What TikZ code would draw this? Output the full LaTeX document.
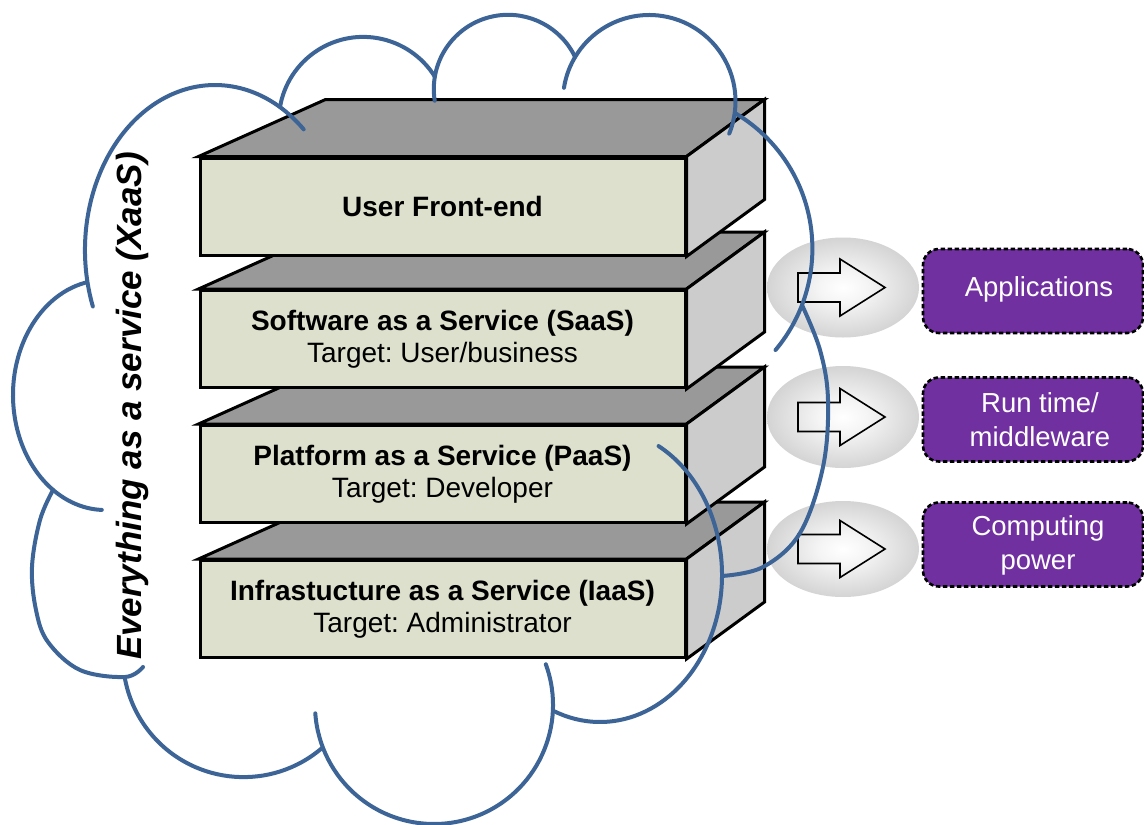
\documentclass[tikz,border=0pt]{standalone}
\usepackage{fontspec}
\setmainfont{Liberation Sans}
\usetikzlibrary{shapes.geometric}
\definecolor{facefront}{RGB}{221,224,204}
\definecolor{facetop}{RGB}{153,153,153}
\definecolor{faceside}{RGB}{204,204,204}
\definecolor{cloudblue}{RGB}{60,100,150}
\definecolor{purp}{RGB}{112,48,160}
\pgfdeclareradialshading{ellgrad}{\pgfpointorigin}{color(0bp)=(white); color(8bp)=(white!96!black); color(50bp)=(black!36)}
\frenchspacing
\begin{document}
\begin{tikzpicture}[x=1pt,y=-1pt,
  frontface/.style={draw=black, line width=3pt, fill=facefront, minimum width=485pt, minimum height=97pt, inner sep=0pt, align=center, font=\fontsize{28}{32}\selectfont},
  topface/.style={draw=black, line width=3pt, fill=facetop},
  sideface/.style={draw=black, line width=3pt, fill=faceside},
  shadeell/.style={ellipse, shading=ellgrad, minimum width=152pt, minimum height=100pt, inner sep=0pt},
  blockarrow/.style={draw=black, line width=1.6pt},
  purpbox/.style={draw=black, line width=2.6pt, dash pattern=on 4.5pt off 2.5pt, fill=purp, rounded corners=16pt, minimum width=220pt, minimum height=84pt, inner sep=0pt},
  purptext/.style={text=white, align=center, font=\fontsize{27.5}{34}\selectfont},
  cloudline/.style={draw=cloudblue, line width=4pt, line cap=round}
]
\useasboundingbox (0,0) rectangle (1144,825);
\fill[white] (0,0) rectangle (1144,825);

% ---- layer boxes (bottom first, so upper boxes cover lower top faces)
\foreach \n/\yy/\txt in {iaas/609/{{\bfseries Infrastucture as a Service (IaaS)}\\Target: Administrator},
                         paas/474/{{\bfseries Platform as a Service (PaaS)}\\Target: Developer},
                         saas/339/{{\bfseries Software as a Service (SaaS)}\\Target: User/business},
                         ufe/206.5/{\bfseries User Front-end}}{
  \node[frontface, draw=none, fill=none] (\n) at (442.5,\yy) {};
  \draw[topface] (\n.north west) -- ([shift={(127,-57)}]\n.north west) -- ([shift={(78,-57)}]\n.north east) -- (\n.north east) -- cycle;
  \draw[sideface] (\n.north east) -- ([shift={(78,-57)}]\n.north east) -- ([shift={(78,-57)}]\n.south east) -- (\n.south east) -- cycle;
  \node[frontface] at (\n.center) {\txt};
}

% ---- ellipses with block arrows
\node[shadeell] (e1) at (843,287.5) {};
\node[shadeell, minimum height=102pt] (e2) at (843,417) {};
\node[shadeell, minimum height=96pt] (e3) at (843,549) {};
\foreach \e in {e1,e2,e3}{
  \begin{scope}[shift={(\e.center)}]
    \draw[blockarrow] (-45,-14.5) -- (-3,-14.5) -- (-3,-28.5) -- (42,0) -- (-3,28.5) -- (-3,14.5) -- (-45,14.5) -- cycle;
  \end{scope}
}

% ---- purple result boxes
\node[purpbox] (app) at (1033,291) {};
\node[purpbox] (rtm) at (1033,419.5) {};
\node[purpbox] (cmp) at (1033,544.5) {};
\node[purptext] (apptxt) at (1039,289) {Applications};
\node[purptext] (rtmtxt) at (1040,420) {Run time/\\middleware};
\node[purptext] (cmptxt) at (1038,545) {Computing\\power};

% ---- vertical title
\node[rotate=90, font=\bfseries\itshape\fontsize{35}{40}\selectfont] (xaas) at (132,406) {Everything as a service (XaaS)};

% ---- cloud outline (drawn over everything), image coordinates
% L1 top-left lobe
\draw[cloudline] (215,250) ++(160:130 and 165) arc[start angle=160, end angle=313, x radius=130, y radius=165];
% L2
\draw[cloudline] (363.2,121.3) ++(190:84.4) arc[start angle=190, end angle=328, radius=84.4];
% L3
\draw[cloudline] (508.1,89.1) ++(171:74.3) arc[start angle=171, end angle=334.4, radius=74.3];
% L4
\draw[cloudline] (649.2,101.3) ++(189:86.3) arc[start angle=189, end angle=382, radius=86.3];
% L5
\draw[cloudline] (654.8,248.7) ++(-59.4:157.6) arc[start angle=-59.4, end angle=40, radius=157.6];
% L6
\draw[cloudline] plot[smooth, tension=0.6] coordinates {(802,305) (820,350) (828,400) (823,467) (800,533) (763,567) (722,576)};
% L7 bottom-right lobe
\draw[cloudline] (600,575) ++(-61.3:122 and 147) arc[start angle=-61.3, end angle=112.5, x radius=122, y radius=147];
% L8 bottom lobe
\draw[cloudline] (434,705) ++(-20:119) arc[start angle=-20, end angle=176, radius=119];
% L9 lower-left lobe
\draw[cloudline] (243.5,656.5) ++(49.4:120.6) arc[start angle=49.4, end angle=169.2, radius=120.6];
% L10 left lobe
\draw[cloudline] plot[smooth, tension=0.6] coordinates {(53,490) (40,520) (32,567) (36,610) (48,642) (80,670) (125,677) (143,667)};
% L11 upper-left lobe
\draw[cloudline] (105,395) ++(257.5:92 and 115) arc[start angle=257.5, end angle=92, x radius=92, y radius=115];
\end{tikzpicture}
\end{document}
